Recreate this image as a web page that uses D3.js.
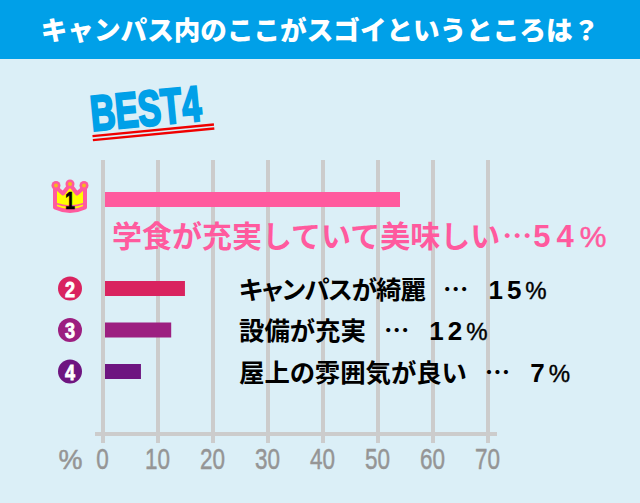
<!DOCTYPE html>
<html>
<head>
<meta charset="utf-8">
<script src="https://cdn.jsdelivr.net/npm/d3@7"></script>
<style>
html, body { margin: 0; padding: 0; background: #dbeff7; }
svg { display: block; }
text { font-family: "Noto Sans CJK JP", sans-serif; }
.num { font-family: "Liberation Sans", sans-serif; }
</style>
</head>
<body>
<svg id="chart" width="640" height="503"></svg>
<script>
var title = 'キャンパス内のここがスゴイというところは？';
var ranks = ['1', '2', '3', '4'];
var labels = ['学食が充実していて美味しい', 'キャンパスが綺麗', '設備が充実', '屋上の雰囲気が良い'];
var percents = ['54', '15', '12', '7'];
var values = [54, 14.9, 12.4, 6.9];
var colors = ['#ff5a9e', '#d9235f', '#9c1f80', '#6e1580'];
var ticks = [0, 10, 20, 30, 40, 50, 60, 70];

var svg = d3.select('#chart');

var x = d3.scaleLinear().domain([0, 70]).range([103, 488]);
var rowY = d3.scaleOrdinal().domain(ranks).range([199.5, 288.5, 330, 371.5]);

//background and title bar
svg.append('rect').attr('width', 640).attr('height', 503).attr('fill', '#dbeff7');
svg.append('rect').attr('width', 640).attr('height', 59).attr('fill', '#00a0e8');
svg.append('text')
    .attr('x', 320).attr('y', 40)
    .attr('text-anchor', 'middle')
    .attr('fill', '#fff')
    .attr('font-size', 26.6)
    .attr('font-weight', 900)
    .text(title);

//BEST4 logo
var logo = svg.append('g').attr('transform', 'translate(92,131) rotate(-5.5)');
logo.append('text')
    .attr('class', 'num')
    .attr('font-size', 50)
    .attr('font-weight', 700)
    .attr('fill', '#00a0e8')
    .attr('stroke', '#00a0e8')
    .attr('stroke-width', 2.4)
    .attr('textLength', 111)
    .attr('lengthAdjust', 'spacingAndGlyphs')
    .text('BEST4');
[4, 8].forEach(function(d) {
    logo.append('rect').attr('x', 0).attr('y', d).attr('width', 122).attr('height', 2.4).attr('fill', '#f00000');
});

//grid lines
svg.append('g').selectAll('rect')
    .data(ticks)
    .join('rect')
    .attr('x', function(d) { return x(d) - 2; })
    .attr('y', 160)
    .attr('width', 4)
    .attr('height', 283)
    .attr('fill', '#cccccc');

//axis line
svg.append('rect').attr('x', 95).attr('y', 432).attr('width', 402).attr('height', 4).attr('fill', '#cccccc');

//tick labels, squeezed because there is no narrow font
svg.append('g').selectAll('text')
    .data(ticks)
    .join('text')
    .attr('class', 'num')
    .attr('x', function(d) { return x(d) - 0.5; })
    .attr('y', 469)
    .attr('text-anchor', 'middle')
    .attr('fill', '#959595')
    .attr('stroke', '#959595')
    .attr('stroke-width', 0.5)
    .attr('font-size', 29)
    .attr('textLength', function(d) { return String(d).length * 12.5; })
    .attr('lengthAdjust', 'spacingAndGlyphs')
    .text(function(d) { return d; });
svg.append('text')
    .attr('class', 'num')
    .attr('x', 70.5).attr('y', 469)
    .attr('text-anchor', 'middle')
    .attr('fill', '#959595')
    .attr('stroke', '#959595')
    .attr('stroke-width', 0.5)
    .attr('font-size', 27)
    .text('%');

//bars
svg.append('g').selectAll('rect')
    .data(values)
    .join('rect')
    .attr('x', x(0) + 2)
    .attr('y', function(d, i) { return rowY(ranks[i]) - 7.5; })
    .attr('width', function(d) { return x(d) - x(0) - 2; })
    .attr('height', 15)
    .attr('fill', function(d, i) { return colors[i]; });

//crown for first place
var crown = svg.append('g').attr('transform', 'translate(70,196.5)');
crown.append('path')
    .attr('d', 'M-15,-10 L-7,-3 L0,-12 L7,-3 L15,-10 L15,11 Q0,18 -15,11 Z')
    .attr('fill', '#ffff00')
    .attr('stroke', '#ff5a9e')
    .attr('stroke-width', 4)
    .attr('stroke-linejoin', 'round');
crown.append('path')
    .attr('d', 'M-14,7 Q0,12 14,7')
    .attr('fill', 'none')
    .attr('stroke', '#ff5a9e')
    .attr('stroke-width', 1.5);
[-14, 0, 14].forEach(function(d) {
    crown.append('circle').attr('cx', d).attr('cy', d === 0 ? -12.5 : -11).attr('r', 4.5).attr('fill', '#ff5a9e');
    crown.append('circle').attr('cx', d).attr('cy', d === 0 ? -12.5 : -11).attr('r', 2).attr('fill', '#f5b81e');
});
crown.append('text')
    .attr('class', 'num')
    .attr('y', 12.5)
    .attr('text-anchor', 'middle')
    .attr('font-size', 24)
    .attr('font-weight', 700)
    .attr('stroke', '#000')
    .attr('stroke-width', 0.6)
    .attr('textLength', 10)
    .attr('lengthAdjust', 'spacingAndGlyphs')
    .text('1');

//rank circles for the rest
var badges = svg.append('g').selectAll('g')
    .data(ranks.slice(1))
    .join('g')
    .attr('transform', function(d) { return 'translate(70,' + rowY(d) + ')'; });
badges.append('circle')
    .attr('r', 12)
    .attr('fill', function(d, i) { return colors[i + 1]; });
badges.append('text')
    .attr('class', 'num')
    .attr('y', 8)
    .attr('text-anchor', 'middle')
    .attr('fill', '#fff')
    .attr('stroke', '#fff')
    .attr('stroke-width', 0.8)
    .attr('font-size', 22)
    .attr('font-weight', 700)
    .attr('textLength', 10)
    .attr('lengthAdjust', 'spacingAndGlyphs')
    .text(function(d) { return d; });

//labels, each one is name, dots, percent
var first = svg.append('text')
    .attr('x', 112).attr('y', 247)
    .attr('fill', colors[0])
    .attr('font-size', 30)
    .attr('font-weight', 700);
first.append('tspan').text(labels[0]);
first.append('tspan').attr('dx', 2).text('…');
first.append('tspan').attr('class', 'num').attr('dx', 1).attr('font-size', 31).attr('letter-spacing', 6).text(percents[0]);
first.append('tspan').attr('class', 'num').attr('font-weight', 400).attr('stroke', colors[0]).attr('stroke-width', 0.5).text('%');

var rows = svg.append('g').selectAll('text')
    .data(labels.slice(1))
    .join('text')
    .attr('x', 239)
    .attr('y', function(d, i) { return rowY(ranks[i + 1]) + 10; })
    .attr('fill', '#000')
    .attr('font-size', 25.4)
    .attr('font-weight', 700)
    .style('font-feature-settings', '"palt"');
//the katakana row runs tighter in the original
rows.append('tspan').attr('letter-spacing', function(d, i) { return i === 0 ? -0.9 : 0; }).text(function(d) { return d; });
rows.append('tspan').attr('dx', 18).text('…');
rows.append('tspan').attr('class', 'num').attr('dx', 20).attr('font-size', 26).attr('letter-spacing', 4).text(function(d, i) { return percents[i + 1]; });
rows.append('tspan').attr('class', 'num').attr('font-weight', 400).attr('font-size', 24).attr('stroke', '#000').attr('stroke-width', 0.4).text('%');
</script>
</body>
</html>
